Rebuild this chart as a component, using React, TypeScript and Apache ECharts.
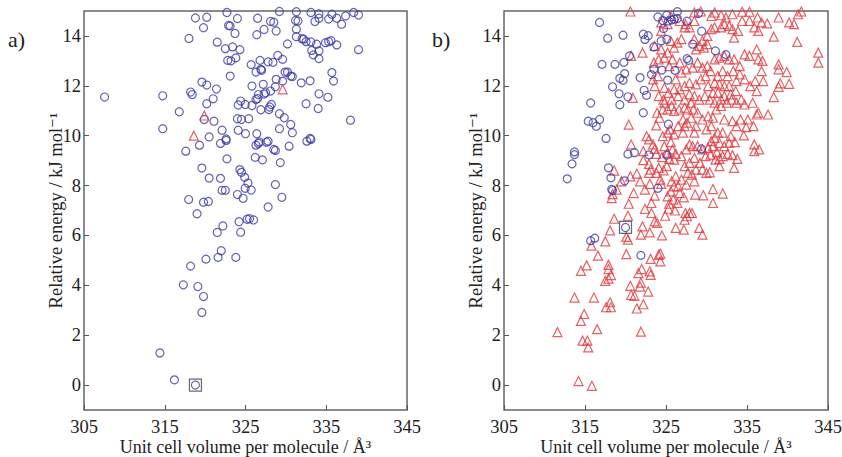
import React, { useEffect, useRef } from "react";
import * as echarts from "echarts";

const xTicks = [305, 315, 325, 335, 345];
const yTicks = [0, 2, 4, 6, 8, 10, 12, 14];
const xTitle = "Unit cell volume per molecule / Å³";
const yTitle = "Relative energy / kJ mol⁻¹";
const panelLabels = ["a)", "b)"];

const aCircles: number[][] = [
  [307.55,11.55],[314.4,1.29],[316.2,0.21],[318.8,0.0],[314.75,11.6],[314.75,10.28],[316.8,10.96],[318.2,11.75],[318.4,11.65],[318.0,13.9],[318.8,14.72],[319.8,14.33],[320.2,14.75],[319.6,12.15],[320.2,12.03],[320.2,11.28],[321.0,11.48],[321.4,11.87],[321.5,13.75],[322.5,13.49],[322.7,14.94],[322.9,14.42],[323.1,14.4],[322.8,13.02],[323.2,13.0],[323.4,13.56],[323.8,13.12],[323.7,14.1],[324.0,14.7],[324.3,13.45],[323.1,12.39],[319.9,10.65],[321.1,10.58],[320.5,9.95],[319.3,9.62],[317.6,9.38],[319.6,8.7],[320.5,8.3],[317.96,7.44],[319.8,7.33],[320.4,7.36],[319.0,6.87],[318.2,4.77],[320.1,5.05],[317.3,4.02],[319.1,3.95],[319.8,3.55],[319.6,2.91],[322.1,10.22],[321.9,9.69],[322.6,9.81],[322.6,9.87],[322.7,9.07],[321.9,8.29],[322.1,7.81],[322.5,7.81],[321.5,6.12],[322.2,6.38],[322.0,5.39],[321.6,5.12],[323.8,5.12],[324.0,10.68],[324.5,10.65],[324.1,10.22],[325.0,10.08],[325.4,10.68],[324.1,11.23],[324.4,11.39],[324.96,11.25],[324.3,8.64],[324.5,8.53],[324.9,8.33],[325.3,8.1],[324.96,7.89],[325.7,7.82],[324.0,7.64],[324.7,7.49],[324.2,6.55],[324.4,6.13],[325.2,6.65],[325.5,6.67],[326.0,6.62],[325.8,11.99],[325.8,11.21],[325.7,12.85],[326.4,14.05],[326.5,14.71],[326.3,12.55],[326.8,13.02],[326.9,12.66],[327.0,12.62],[326.3,11.45],[326.5,11.49],[326.6,11.65],[327.3,14.26],[327.2,12.06],[327.5,11.72],[327.8,12.96],[328.4,12.94],[328.1,14.58],[328.5,14.55],[328.8,14.2],[329.2,14.98],[328.1,11.79],[328.7,11.96],[328.8,12.26],[329.0,13.22],[329.6,13.06],[329.6,12.19],[329.9,12.55],[330.2,12.55],[330.6,12.39],[330.8,12.37],[330.2,13.68],[331.3,13.97],[331.3,14.27],[331.2,14.62],[331.5,14.6],[331.3,14.97],[327.9,11.05],[328.0,11.15],[328.2,11.25],[326.4,10.08],[326.6,9.69],[326.3,9.62],[326.7,9.75],[327.6,9.74],[327.8,9.78],[326.2,9.13],[327.1,9.03],[328.5,9.45],[328.7,9.41],[329.2,10.88],[329.8,10.72],[329.2,10.28],[330.6,10.45],[330.8,10.12],[330.4,9.58],[329.3,8.92],[328.7,8.04],[329.5,7.53],[327.8,7.14],[331.9,12.12],[333.0,12.2],[332.5,11.28],[332.0,13.89],[332.2,13.87],[332.5,13.77],[333.1,13.76],[333.2,13.42],[333.4,13.24],[334.1,13.09],[334.1,13.4],[333.8,13.67],[333.6,14.58],[334.1,14.71],[333.1,14.94],[334.1,14.88],[334.1,11.68],[334.0,11.09],[332.6,9.78],[333.0,9.89],[333.1,9.85],[334.9,13.73],[335.3,13.77],[335.6,13.81],[335.3,14.68],[335.7,14.87],[335.7,12.53],[335.9,12.19],[335.2,11.54],[336.3,13.64],[336.3,14.71],[336.9,14.47],[337.4,14.8],[338.4,14.94],[339.0,14.84],[339.0,13.45],[338.0,10.62],[326.9,11.04],[327.3,11.67]
];
const aTriangles: number[][] = [[319.9,10.81],[318.6,10.0],[329.6,11.86]];
const aMinimum: number[][] = [[318.8,0.0]];

const bCircles: number[][] = [
  [316.8,14.54],[317.8,13.91],[319.7,14.03],[317.1,12.86],[318.7,12.86],[319.8,12.94],[320.5,13.2],[319.9,12.49],[319.3,12.3],[319.7,12.22],[318.4,11.96],[319.2,11.68],[320.3,11.56],[319.3,11.24],[315.7,11.31],[315.4,10.58],[316.0,10.52],[316.4,10.38],[316.8,10.65],[317.6,9.89],[313.7,9.35],[313.7,9.24],[313.4,8.87],[312.8,8.27],[317.9,8.71],[318.2,8.31],[319.9,8.19],[318.3,7.85],[318.4,7.8],[320.3,9.26],[321.1,9.32],[320.0,6.32],[315.7,5.79],[316.2,5.89],[321.9,5.2],[322.2,10.92],[322.3,11.82],[322.6,11.62],[321.8,12.33],[322.2,14.07],[322.4,13.86],[322.8,14.01],[323.2,12.45],[323.5,13.56],[323.5,12.67],[324.5,12.63],[325.2,12.23],[325.1,13.86],[324.4,13.8],[324.0,14.76],[324.6,14.62],[324.7,14.3],[325.1,14.83],[325.3,14.6],[325.7,14.64],[326.0,14.67],[326.4,14.7],[326.4,14.97],[327.6,14.59],[329.0,14.9],[328.3,13.67],[329.4,14.19],[327.6,13.09],[327.8,13.02],[326.1,12.62],[325.3,10.46],[325.1,9.22],[322.9,9.23],[324.0,7.89],[329.4,9.47],[331.1,13.4],[332.4,13.25]
];
const bTriangles: number[][] = [
  [314.2,0.16],[315.85,-0.03],[311.6,2.12],[314.5,2.57],[314.9,2.85],[314.7,1.78],[315.3,1.78],[315.4,1.51],[316.5,2.24],[313.7,3.51],[316.1,3.51],[317.6,3.12],[318.2,3.12],[318.1,3.32],[314.5,4.58],[315.2,4.8],[317.5,4.18],[317.9,4.27],[318.2,4.41],[317.9,4.65],[317.9,4.82],[316.6,5.19],[315.8,5.59],[317.5,5.76],[318.1,6.2],[318.6,6.67],[320.1,5.94],[320.3,5.83],[320.1,5.25],[320.6,3.98],[320.7,3.62],[321.1,3.58],[321.4,3.07],[322.2,3.24],[321.8,3.95],[321.9,4.11],[321.6,4.49],[322.0,4.65],[323.1,4.42],[323.0,4.56],[322.8,3.75],[321.9,2.14],[323.1,5.06],[324.1,5.22],[324.3,4.96],[324.3,5.27],[321.9,6.03],[322.1,6.36],[323.0,6.12],[323.2,6.9],[322.4,7.06],[323.6,6.56],[324.5,6.0],[323.9,6.5],[324.9,6.79],[325.3,7.07],[325.4,7.27],[325.9,7.44],[326.1,7.0],[326.2,6.3],[327.2,6.23],[327.3,6.63],[327.6,6.77],[328.2,6.9],[329.1,6.3],[329.5,6.03],[327.2,7.53],[328.6,7.64],[329.6,7.61],[330.8,7.86],[330.8,7.3],[332.0,7.68],[320.3,6.79],[320.4,7.27],[319.5,8.17],[318.6,8.6],[318.4,7.66],[318.3,7.5],[318.9,7.84],[321.0,7.7],[320.6,8.37],[321.4,8.48],[321.8,8.17],[322.2,9.02],[322.2,9.38],[320.7,9.65],[320.4,10.44],[322.6,9.98],[322.9,9.85],[323.4,9.65],[323.6,9.47],[323.8,9.27],[322.9,8.87],[323.1,8.64],[322.9,8.51],[323.0,8.07],[323.8,8.51],[324.1,8.71],[324.7,8.61],[325.1,8.78],[324.5,9.14],[324.8,9.58],[325.6,9.74],[325.8,9.45],[325.2,9.31],[326.2,9.27],[324.3,8.24],[324.4,8.07],[325.7,8.17],[326.0,7.97],[326.2,8.37],[326.9,8.24],[326.5,7.97],[327.5,8.04],[327.7,8.51],[327.3,8.78],[328.2,8.44],[328.5,8.17],[327.9,8.91],[328.5,9.11],[328.7,8.64],[329.5,8.64],[330.0,8.51],[330.4,8.53],[329.2,8.91],[329.9,9.18],[330.5,9.24],[331.1,9.04],[331.6,9.07],[332.0,9.18],[332.6,9.27],[333.2,9.22],[333.8,9.07],[333.4,8.71],[330.8,9.58],[331.6,9.71],[332.2,9.58],[332.8,9.71],[333.5,9.74],[331.4,10.12],[332.0,10.12],[333.0,9.98],[334.6,10.01],[334.9,10.34],[335.8,10.38],[335.9,9.65],[335.9,9.38],[336.5,9.45],[336.2,10.85],[336.4,10.92],[337.6,10.85],[335.1,10.65],[334.2,10.65],[333.7,10.38],[333.2,10.58],[332.2,10.65],[330.6,10.38],[330.0,10.25],[329.5,10.65],[328.7,10.38],[328.5,10.12],[327.6,10.52],[327.3,10.38],[327.1,10.12],[326.5,10.38],[326.0,10.05],[325.5,10.25],[325.2,10.12],[324.6,9.98],[323.8,10.41],[324.2,10.72],[323.9,10.92],[324.6,11.05],[325.2,11.05],[325.7,11.19],[326.0,10.99],[326.6,11.05],[327.3,11.12],[327.7,11.05],[328.4,11.05],[328.9,10.92],[328.1,10.72],[327.1,10.65],[330.2,10.78],[330.8,10.72],[331.2,11.05],[331.8,11.19],[332.5,11.32],[333.1,11.45],[333.7,11.32],[334.3,11.45],[334.7,11.25],[335.7,11.32],[338.3,11.55],[338.9,11.96],[339.1,12.1],[340.2,12.08],[338.9,12.66],[339.9,12.55],[338.9,12.86],[341.2,13.76],[343.8,13.33],[343.8,12.93],[338.3,13.97],[338.9,14.74],[340.2,14.54],[340.8,14.47],[341.3,14.87],[341.7,14.98],[337.5,14.5],[336.8,14.54],[336.3,14.74],[335.9,14.34],[336.4,14.2],[335.3,14.6],[334.4,14.6],[333.9,14.2],[333.4,13.93],[333.2,14.27],[332.8,14.4],[332.2,14.47],[331.8,14.83],[332.4,14.74],[333.2,14.87],[334.4,14.97],[335.3,14.97],[331.8,14.34],[331.0,14.34],[330.6,14.27],[330.1,14.0],[329.5,13.8],[330.1,13.67],[329.7,13.53],[329.1,13.6],[328.7,13.46],[328.5,13.87],[327.9,14.34],[328.5,14.6],[327.3,14.34],[326.9,13.87],[326.4,13.73],[326.0,13.53],[325.6,13.8],[325.2,13.33],[324.4,13.46],[323.6,13.6],[323.5,12.93],[322.1,13.33],[320.7,13.2],[324.4,14.2],[324.4,14.54],[325.2,14.47],[325.6,14.8],[326.7,14.6],[327.4,14.47],[328.5,14.94],[330.6,14.8],[331.0,14.94],
  [331.0,13.06],[331.6,13.13],[332.2,13.2],[332.8,13.06],[333.4,13.06],[334.1,12.79],[334.7,13.26],[335.3,13.2],[336.2,13.46],[336.4,13.06],[336.9,13.0],[336.8,12.59],[337.0,12.19],[336.0,12.19],[335.4,11.99],[336.2,11.79],[334.7,12.26],[334.1,12.46],[333.7,12.19],[333.3,12.59],[332.6,12.39],[332.0,12.59],[331.4,12.39],[331.0,12.12],[331.6,12.06],[332.2,11.99],[332.8,11.99],[333.6,11.79],[333.0,11.66],[332.2,11.59],[331.4,11.72],[330.8,11.72],[330.2,11.99],[329.8,11.59],[330.4,11.45],[329.1,11.45],[328.5,11.59],[327.9,11.66],[328.1,11.32],[327.3,11.45],[326.5,11.59],[326.7,11.86],[327.3,11.99],[327.9,12.12],[328.7,12.06],[329.3,12.26],[329.9,12.39],[330.5,12.59],[330.1,12.79],[329.5,12.73],[328.9,12.93],[328.3,12.73],[327.5,12.66],[326.9,12.53],[326.2,12.26],[326.7,12.93],[325.8,13.06],[325.4,12.79],[324.8,13.13],[324.1,13.06],[324.0,12.39],[323.4,12.26],[323.6,11.99],[324.8,11.92],[325.3,11.72],[325.7,11.45],[324.7,11.45],[324.1,11.59],[324.8,11.32],[320.9,11.52],[326.0,11.86],[331.0,11.32],[331.8,11.45],[320.6,14.98],[329.3,14.98],
  [325.4,9.07],[326.0,9.04],[326.9,9.18],[327.5,9.45],[327.9,9.65],[328.3,9.58],[328.9,9.58],[329.5,9.45],[330.2,9.51],[330.6,9.78],[331.0,9.91],[331.3,9.34],[331.6,8.78],[325.6,7.77],[326.7,7.7],[327.4,6.9],[327.9,6.9],[325.2,7.57],[326.4,7.3],[323.6,7.6],[323.2,7.3],[322.4,7.84]
];
const bMinimum: number[][] = [[320.0,6.32]];

const SERIF = "'Liberation Serif', 'DejaVu Serif', serif";
const BLUE = "#3b3ba8";
const RED = "#e0393f";

export default function App() {
  const ref = useRef<HTMLDivElement>(null);
  useEffect(() => {
    if (!ref.current) return;
    const chart = echarts.init(ref.current, null, { renderer: "svg" });
    const mkX = (gi: number) => ({
      type: "value", gridIndex: gi, min: 305, max: 345, interval: 10,
      axisLine: { show: false, onZero: false },
      axisTick: { show: true, inside: true, length: 5, lineStyle: { color: "#555" }, customValues: xTicks },
      axisLabel: { fontSize: 18.5, fontFamily: SERIF, color: "#222", margin: 7, customValues: xTicks },
      splitLine: { show: false },
      name: xTitle, nameLocation: "middle", nameGap: 28, nameMoveOverlap: false,
      nameTextStyle: { fontSize: 18, fontFamily: SERIF, color: "#222" },
    });
    const mkY = (gi: number) => ({
      type: "value", gridIndex: gi, min: -1, max: 15,
      axisLine: { show: false, onZero: false },
      axisTick: { show: true, inside: true, length: 5, lineStyle: { color: "#555" }, customValues: yTicks },
      axisLabel: { fontSize: 18.5, fontFamily: SERIF, color: "#222", margin: 3, customValues: yTicks },
      splitLine: { show: false },
      name: yTitle, nameLocation: "middle", nameGap: 19, nameMoveOverlap: false,
      nameTextStyle: { fontSize: 18.5, fontFamily: SERIF, color: "#222" },
    });
    const circ = (data: number[][], gi: number) => ({
      type: "scatter", xAxisIndex: gi, yAxisIndex: gi, data, symbol: "circle", symbolSize: 8,
      itemStyle: { color: "transparent", borderColor: BLUE, borderWidth: 1.2 }, silent: true,
    });
    const tri = (data: number[][], gi: number) => ({
      type: "scatter", xAxisIndex: gi, yAxisIndex: gi, data, symbol: "triangle", symbolSize: 9,
      itemStyle: { color: "transparent", borderColor: RED, borderWidth: 1.2 }, silent: true,
    });
    const sq = (data: number[][], gi: number) => ({
      type: "scatter", xAxisIndex: gi, yAxisIndex: gi, data, symbol: "rect", symbolSize: 12,
      itemStyle: { color: "transparent", borderColor: "#444", borderWidth: 1.2 }, silent: true, z: 5,
    });
    chart.setOption({
      animation: false,
      backgroundColor: "#fff",
      grid: [
        { left: 84, top: 11, width: 323, height: 399, show: true, borderColor: "#666", borderWidth: 1.5, backgroundColor: "transparent", outerBoundsMode: "none", containLabel: false },
        { left: 504, top: 11, width: 324, height: 399, show: true, borderColor: "#666", borderWidth: 1.5, backgroundColor: "transparent", outerBoundsMode: "none", containLabel: false },
      ],
      xAxis: [mkX(0), mkX(1)],
      yAxis: [mkY(0), mkY(1)],
      graphic: [
        { type: "text", left: 8, top: 28, style: { text: panelLabels[0], fontSize: 22, fontFamily: SERIF, fill: "#222" } },
        { type: "text", left: 432, top: 28, style: { text: panelLabels[1], fontSize: 22, fontFamily: SERIF, fill: "#222" } },
      ],
      series: [
        circ(aCircles, 0), tri(aTriangles, 0), sq(aMinimum, 0),
        tri(bTriangles, 1), circ(bCircles, 1), sq(bMinimum, 1),
      ],
    });
    return () => chart.dispose();
  }, []);
  return <div ref={ref} style={{ width: 842, height: 457, position: "absolute", left: 0, top: 0 }} />;
}
